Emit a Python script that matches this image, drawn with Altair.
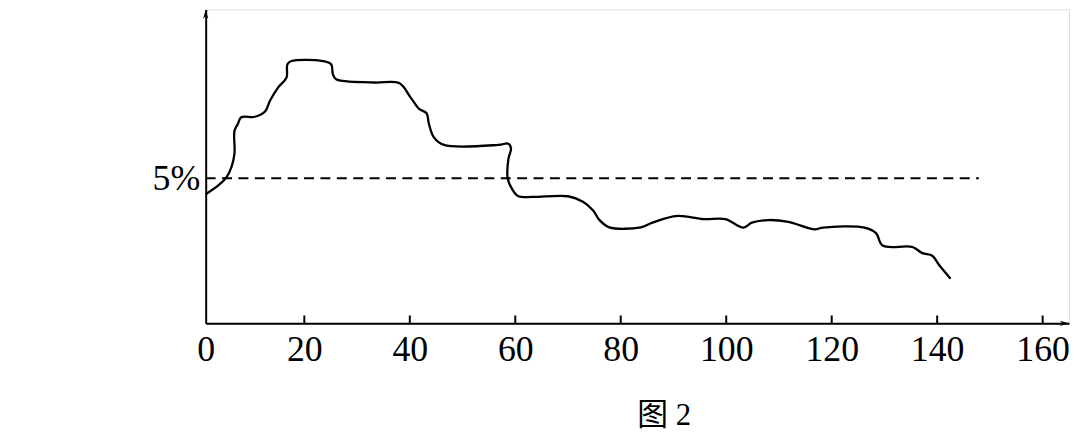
import altair as alt
import pandas as pd

# curve: time (x) and percentage (y)
curve_x = [1.3, 3.75, 5.26, 6.2, 6.76, 6.76, 7.39, 8.03, 10.66, 12.55, 13.49, 15.05, 16.62, 16.8,
           17.56, 23.53, 25.09, 25.41, 26.04, 33.27, 37.98, 40.17, 41.75, 43.18, 43.63, 44.57,
           46.46, 56.82, 58.70, 59.19, 58.70, 58.57, 59.33, 60.59, 63.41, 70.01, 72.83, 74.72,
           75.96, 77.84, 83.82, 86.02, 90.73, 95.74, 99.83, 103.28, 104.86, 107.99, 111.76,
           116.79, 118.35, 126.21, 128.41, 129.65, 135.3, 137.19, 139.07, 140.33, 142.54]
curve_y = [4.45, 4.76, 5.04, 5.39, 5.86, 6.64, 6.87, 7.10, 7.12, 7.30, 7.67, 8.13, 8.47, 8.93,
           9.04, 9.04, 8.93, 8.59, 8.41, 8.30, 8.28, 7.78, 7.39, 7.24, 6.87, 6.41,
           6.15, 6.15, 6.19, 6.02, 5.67, 4.99, 4.65, 4.38, 4.36, 4.38, 4.19, 3.90,
           3.56, 3.31, 3.31, 3.47, 3.70, 3.59, 3.59, 3.30, 3.47, 3.56, 3.50,
           3.24, 3.30, 3.30, 3.11, 2.68, 2.63, 2.42, 2.33, 2.02, 1.54]

threshold_value = 5
threshold_end = 147.9
x_ticks = [20, 40, 60, 80, 100, 120, 140, 160]
x_origin = 1.3
x_max = 165.0
y_max = 10.82
tick_len = 0.27

SERIF = "'Liberation Serif', 'Times New Roman', serif"
TITLE_FONT = "'Liberation Serif', 'Noto Sans CJK SC', serif"

curve = pd.DataFrame({"t": curve_x, "v": curve_y, "order": list(range(len(curve_x)))})
dash = pd.DataFrame({"t": [x_origin], "t2": [threshold_end], "v": [threshold_value]})
ticks = pd.DataFrame({"t": x_ticks, "v": [0] * len(x_ticks), "v2": [tick_len] * len(x_ticks)})
arrows = pd.DataFrame({"t": [x_max], "v": [0]})
arrows_y = pd.DataFrame({"t": [x_origin], "v": [y_max]})

xscale = alt.Scale(domain=[x_origin, x_max], nice=False, zero=False)
yscale = alt.Scale(domain=[0, y_max], nice=False, zero=False)

x_axis = alt.Axis(values=[x_origin] + x_ticks, ticks=False, grid=False,
                  domainColor="black", domainWidth=2, title=None,
                  labelExpr="datum.value < 10 ? '0' : datum.label",
                  labelFont=SERIF, labelFontSize=36, labelColor="black",
                  labelPadding=9, labelOverlap=False, labelFlush=False, labelBound=False)
y_axis = alt.Axis(values=[threshold_value], ticks=False, grid=False,
                  domainColor="black", domainWidth=2, title=None,
                  labelExpr="'5%'", labelFont=SERIF, labelFontSize=36,
                  labelColor="black", labelPadding=6)

line = alt.Chart(curve).mark_line(color="black", strokeWidth=2.3, interpolate="catmull-rom").encode(
    x=alt.X("t:Q", scale=xscale, axis=x_axis),
    y=alt.Y("v:Q", scale=yscale, axis=y_axis),
    order="order:Q",
)

dashed = alt.Chart(dash).mark_rule(color="black", strokeWidth=2, strokeDash=[10, 6.5]).encode(
    x="t:Q", x2="t2:Q", y="v:Q"
)

tickmarks = alt.Chart(ticks).mark_rule(color="black", strokeWidth=2).encode(
    x="t:Q", y="v:Q", y2="v2:Q"
)

arrow_x = alt.Chart(arrows).mark_point(
    shape="M0,0 L-2,-0.55 L-1.4,0 L-2,0.55 Z", size=90, filled=True, color="black", opacity=1
).encode(x="t:Q", y="v:Q")

arrow_y = alt.Chart(arrows_y).mark_point(
    shape="M0,0 L-0.55,2 L0,1.4 L0.55,2 Z", size=90, filled=True, color="black", opacity=1
).encode(x="t:Q", y="v:Q")

chart = alt.layer(dashed, tickmarks, line, arrow_x, arrow_y).properties(
    width=869, height=316,
    title=alt.TitleParams("图 2", orient="bottom", font=TITLE_FONT, fontSize=31,
                          fontWeight="normal", color="black", dx=27, offset=34),
    autosize=alt.AutoSizeParams(type="none"),
    padding={"left": 199, "top": 0, "right": 3, "bottom": 112},
).configure_view(stroke=None).configure(background="white")

chart.save("out.html", embed_options={"renderer": "svg", "actions": False})
